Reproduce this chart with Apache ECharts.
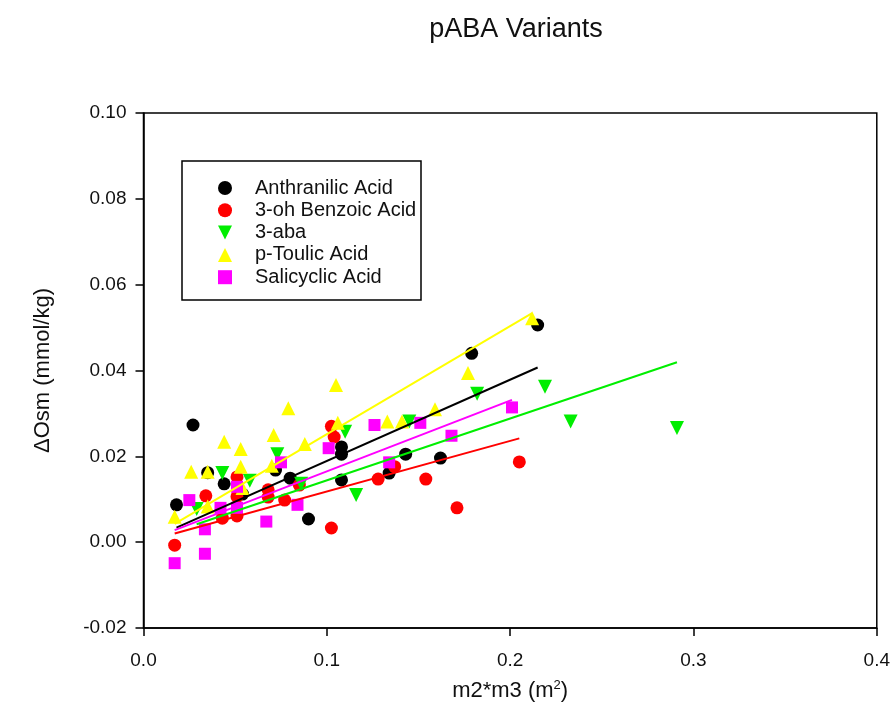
<!DOCTYPE html>
<html>
<head>
<meta charset="utf-8">
<script src="https://cdn.jsdelivr.net/npm/echarts@6/dist/echarts.min.js"></script>
<style>html,body{margin:0;padding:0;background:#fff}#c{width:893px;height:719px}</style>
</head>
<body>
<div id="c"></div>
<script>
// ---- data ----
const seriesNames = ['Anthranilic Acid', '3-oh Benzoic Acid', '3-aba', 'p-Toulic Acid', 'Salicyclic Acid'];

const anthX = [0.018, 0.027, 0.035, 0.044, 0.054, 0.072, 0.080, 0.090, 0.108, 0.108, 0.108, 0.134, 0.143, 0.162, 0.179, 0.215];
const anthY = [0.0087, 0.0273, 0.0162, 0.0136, 0.0112, 0.0168, 0.0149, 0.0054, 0.0222, 0.0205, 0.0145, 0.0161, 0.0205, 0.0196, 0.0440, 0.0506];

const benzX = [0.017, 0.034, 0.043, 0.051, 0.051, 0.051, 0.068, 0.068, 0.077, 0.085, 0.1025, 0.104, 0.1025, 0.128, 0.137, 0.154, 0.171, 0.205];
const benzY = [-0.0007, 0.0108, 0.0056, 0.0152, 0.0106, 0.0061, 0.0122, 0.0105, 0.0098, 0.0133, 0.0270, 0.0245, 0.0033, 0.0147, 0.0176, 0.0147, 0.0080, 0.0187];

const abaX = [0.029, 0.043, 0.058, 0.073, 0.086, 0.110, 0.116, 0.145, 0.182, 0.219, 0.233, 0.291];
const abaY = [0.0077, 0.0161, 0.0143, 0.0205, 0.0136, 0.0257, 0.0110, 0.0281, 0.0346, 0.0362, 0.0281, 0.0266];

const toulX = [0.017, 0.026, 0.035, 0.035, 0.044, 0.053, 0.053, 0.054, 0.071, 0.070, 0.079, 0.088, 0.105, 0.106, 0.133, 0.141, 0.159, 0.177, 0.212];
const toulY = [0.0059, 0.0164, 0.0164, 0.0083, 0.0234, 0.0217, 0.0176, 0.0126, 0.0250, 0.0178, 0.0312, 0.0229, 0.0366, 0.0278, 0.0281, 0.0281, 0.0310, 0.0394, 0.0522];

const salX = [0.017, 0.025, 0.0335, 0.0335, 0.042, 0.051, 0.051, 0.067, 0.075, 0.084, 0.101, 0.126, 0.134, 0.151, 0.168, 0.201];
const salY = [-0.0049, 0.0098, 0.0030, -0.0027, 0.0080, 0.0129, 0.0080, 0.0048, 0.0186, 0.0087, 0.0219, 0.0273, 0.0186, 0.0278, 0.0248, 0.0314];

const xTicks = [0.0, 0.1, 0.2, 0.3, 0.4];
const yTicks = [-0.02, 0.00, 0.02, 0.04, 0.06, 0.08, 0.10];

// ---- styling ----
const FONT = 'Liberation Sans, Arial, sans-serif';
const colors = ['#000000', '#ff0000', '#00ee00', '#ffff00', '#ff00ff'];
const symbols = ['circle', 'circle', 'triangle', 'triangle', 'rect'];
const legendIcons = ['circle', 'circle', 'path://M0,0 L10,0 L5,10 Z', 'triangle', 'rect'];
const rotates = [0, 0, 180, 0, 0];
const sizes = [13, 13, 14, 14, 12];

const xs = [anthX, benzX, abaX, toulX, salX];
const ys = [anthY, benzY, abaY, toulY, salY];

function zip(a, b) { return a.map((v, i) => [v, b[i]]); }
// regression through the origin (y = b*x), drawn over the data's x range
function fitLine(x, y) {
  let sxy = 0, sxx = 0;
  for (let i = 0; i < x.length; i++) { sxy += x[i] * y[i]; sxx += x[i] * x[i]; }
  const b = sxy / sxx;
  const x0 = Math.min(...x), x1 = Math.max(...x);
  return [[x0, b * x0], [x1, b * x1]];
}

const series = [];
seriesNames.forEach((name, i) => {
  series.push({
    name: name, type: 'scatter', data: zip(xs[i], ys[i]),
    symbol: symbols[i], symbolRotate: rotates[i], symbolSize: sizes[i],
    symbolKeepAspect: true,
    itemStyle: { color: colors[i], opacity: 1 }, z: 2 + i * 0.01,
    emphasis: { disabled: true }
  });
});
seriesNames.forEach((name, i) => {
  series.push({
    name: 'fit ' + name, type: 'line', data: fitLine(xs[i], ys[i]),
    showSymbol: false, symbol: 'none', lineStyle: { color: colors[i], width: 2 },
    z: 4, silent: true
  });
});

const chart = echarts.init(document.getElementById('c'), null, { renderer: 'canvas' });
chart.setOption({
  animation: false,
  backgroundColor: '#ffffff',
  textStyle: { fontFamily: FONT },
  title: {
    text: 'pABA Variants', left: 511, top: 11, textAlign: 'center',
    textStyle: { fontFamily: FONT, fontSize: 27, fontWeight: 'normal', color: '#111' }
  },
  grid: { left: 143.5, right: 16, top: 113, bottom: 91, show: true, borderColor: '#000', borderWidth: 1.5, backgroundColor: 'transparent' },
  legend: {
    data: seriesNames.map((n, i) => ({ name: n, icon: legendIcons[i], symbolRotate: 0 })),
    orient: 'vertical', left: 213, top: 173,
    itemWidth: 14, itemHeight: 14, itemGap: 2.3,
    textStyle: { fontFamily: FONT, fontSize: 20, lineHeight: 20, color: '#111', padding: [0, 0, 0, 18] },
    selectedMode: false
  },
  graphic: [{
    type: 'rect', shape: { x: 182, y: 161, width: 239, height: 139 },
    style: { fill: 'none', stroke: '#000', lineWidth: 1.5 }, z: 10
  }],
  xAxis: {
    type: 'value', min: xTicks[0], max: xTicks[xTicks.length - 1], interval: 0.1,
    splitLine: { show: false },
    axisLine: { onZero: false, lineStyle: { color: '#000', width: 1.5 } },
    axisTick: { length: 8, lineStyle: { color: '#000', width: 1.5 } },
    axisLabel: { color: '#111', fontSize: 19, margin: 23, fontFamily: FONT, formatter: v => v.toFixed(1) },
    name: '{n|m2*m3 (m}{s|2}{n|)}', nameLocation: 'middle', nameGap: 51,
    nameTextStyle: {
      rich: {
        n: { fontSize: 22, fontFamily: FONT, color: '#111' },
        s: { fontSize: 13, fontFamily: FONT, color: '#111', verticalAlign: 'top', padding: [0, 0, 10, 0] }
      }
    }
  },
  yAxis: {
    type: 'value', min: yTicks[0], max: yTicks[yTicks.length - 1], interval: 0.02,
    splitLine: { show: false },
    axisLine: { onZero: false, lineStyle: { color: '#000', width: 1.5 } },
    axisTick: { length: 8, lineStyle: { color: '#000', width: 1.5 } },
    axisLabel: { color: '#111', fontSize: 19, margin: 17, fontFamily: FONT, formatter: v => v.toFixed(2) },
    name: 'ΔOsm (mmol/kg)', nameLocation: 'middle', nameGap: 90,
    nameTextStyle: { fontSize: 22, fontFamily: FONT, color: '#111' }
  },
  series: series
});
</script>
</body>
</html>
